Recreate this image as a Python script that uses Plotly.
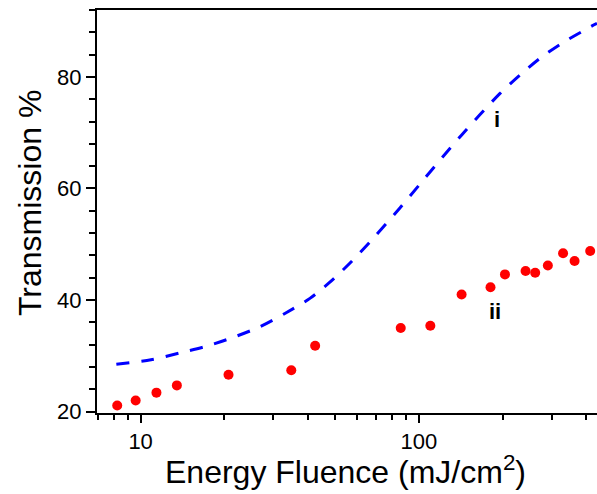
import math
import plotly.graph_objects as go

# Curve i (dashed, model) - energy fluence (mJ/cm^2) and transmission (%)
curve_x = [8.18, 10.9, 13.8, 17.2, 21.5, 26.8, 33.0, 40.6, 47.9, 57.3, 69.5, 85.5,
           101, 122, 142.6, 165.7, 195.5, 230.7, 272, 326, 418, 437]
curve_y = [28.5, 29.3, 30.5, 31.7, 33.3, 35.2, 37.6, 40.3, 43.2, 46.9, 51.4, 56.5,
           60.8, 65.7, 69.6, 73.2, 77.0, 80.3, 83.3, 86.0, 89.1, 89.6]

# Series ii (measured points)
pts_x = [8.24, 9.6, 11.4, 13.5, 20.7, 34.8, 42.4, 86.1, 110, 142.5, 181, 204, 242,
         262, 291, 330, 363, 413]
pts_y = [21.1, 22.0, 23.4, 24.7, 26.6, 27.4, 31.8, 35.0, 35.4, 41.0, 42.3, 44.6,
         45.2, 44.9, 46.2, 48.4, 47.0, 48.8]

# Axis ticks
x_major = [10, 100]
x_minor = [7, 8, 9, 20, 30, 40, 50, 60, 70, 80, 90, 200, 300, 400]
y_major = [20, 40, 60, 80]
y_minor = [24, 28, 32, 36, 44, 48, 52, 56, 64, 68, 72, 76, 84, 88, 92]

# Curve labels
label_text = ["i", "ii"]
label_x = [191, 187.5]
label_y = [72.3, 37.9]

x_range = [6.97, 437]
y_range = [19.75, 92]

FONT = "Liberation Sans, Arial, sans-serif"

fig = go.Figure()
fig.add_trace(go.Scatter(
    x=curve_x, y=curve_y, mode="lines",
    line=dict(color="#0000ff", width=3, dash="13px,12px", shape="spline", smoothing=0.8),
    showlegend=False, hoverinfo="skip"))
fig.add_trace(go.Scatter(
    x=pts_x, y=pts_y, mode="markers",
    marker=dict(color="#ff0000", size=10, line=dict(width=0)),
    showlegend=False))

for t, lx, ly in zip(label_text, label_x, label_y):
    fig.add_annotation(x=math.log10(lx), y=ly, xref="x", yref="y", text="<b>%s</b>" % t,
                       showarrow=False, font=dict(family=FONT, size=22, color="black"))

fig.add_annotation(x=-0.134, y=0.521, xref="paper", yref="paper", text="Transmission %",
                   textangle=-90, showarrow=False, xanchor="center", yanchor="middle",
                   font=dict(family=FONT, size=32, color="black"))
fig.add_annotation(x=0.496, y=-0.1414, xref="paper", yref="paper",
                   text="Energy Fluence (mJ/cm<sup>2</sup>)",
                   showarrow=False, xanchor="center", yanchor="middle",
                   font=dict(family=FONT, size=32, color="black"))

fig.update_layout(
    width=597, height=494,
    margin=dict(l=97, r=0, t=10, b=81),
    paper_bgcolor="white", plot_bgcolor="white",
    font=dict(family=FONT, color="black"),
    xaxis=dict(type="log", range=[math.log10(x_range[0]), math.log10(x_range[1])],
               tickmode="array", tickvals=x_major, ticktext=[str(v) for v in x_major],
               ticks="outside", ticklen=8, tickwidth=2, tickcolor="black",
               minor=dict(tickmode="array", tickvals=x_minor, ticks="outside",
                          ticklen=5, tickwidth=2, tickcolor="black", showgrid=False),
               showline=True, linewidth=2, linecolor="black", mirror=True,
               showgrid=False, zeroline=False,
               tickfont=dict(family=FONT, size=22, color="black")),
    yaxis=dict(range=y_range, tickmode="array", tickvals=y_major,
               ticktext=[str(v) for v in y_major],
               ticks="outside", ticklen=9, tickwidth=2, tickcolor="black",
               minor=dict(tickmode="array", tickvals=y_minor, ticks="outside",
                          ticklen=6, tickwidth=2, tickcolor="black", showgrid=False),
               showline=True, linewidth=2, linecolor="black", mirror=False,
               showgrid=False, zeroline=False,
               tickfont=dict(family=FONT, size=22, color="black")),
)

fig.write_html("out.html")
